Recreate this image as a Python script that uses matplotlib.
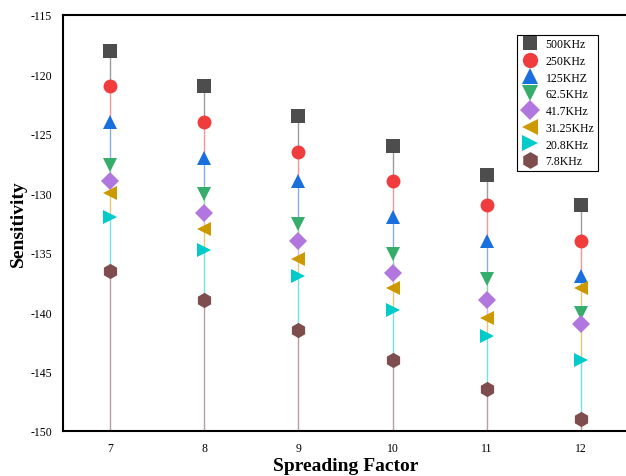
import matplotlib
matplotlib.use("Agg")
import matplotlib.pyplot as plt
from matplotlib.colors import to_rgb

# Spreading factor vs sensitivity for each bandwidth
sf = [7, 8, 9, 10, 11, 12]
labels = ["500KHz", "250KHz", "125KHZ", "62.5KHz", "41.7KHz", "31.25KHz", "20.8KHz", "7.8KHz"]
s500 = [-118, -121, -123.5, -126, -128.5, -131]
s250 = [-121, -124, -126.5, -129, -131, -134]
s125 = [-124, -127, -129, -132, -134, -137]
s62 = [-127.6, -130.1, -132.6, -135.1, -137.2, -140.1]
s41 = [-129, -131.7, -134, -136.7, -139, -141]
s31 = [-130, -133, -135.5, -138, -140.5, -138]
s20 = [-132, -134.8, -137, -139.8, -142, -144]
s7 = [-136.5, -139, -141.5, -144, -146.5, -149]

series = [s500, s250, s125, s62, s41, s31, s20, s7]
colors = ["#4d4d4d", "#f03c3c", "#1a6fdf", "#37ad6b", "#b177de", "#cc9900", "#00cbcb", "#7e4e4e"]
markers = ["s", "o", "^", "v", "D", "<", ">", "h"]
sizes = [9.5, 10, 10.5, 10.5, 9, 10.5, 10.5, 11]


def lighten(c, a=0.55):
    r, g, b = to_rgb(c)
    return (1 - a + a * r, 1 - a + a * g, 1 - a + a * b)


plt.rcParams['font.family'] = ['Liberation Serif', 'DejaVu Serif']
plt.rcParams['axes.unicode_minus'] = False

fig = plt.figure(figsize=(6.26, 4.77), dpi=100)
ax = fig.add_axes([63 / 626, 1 - 432 / 477, 565 / 626, 416 / 477])

base = -150
# each stem runs down to the baseline, later series cover earlier ones;
# only draw the part that stays visible so overlaps don't darken
for i, (vals, c) in enumerate(zip(series, colors)):
    for k, x in enumerate(sf):
        y = vals[k]
        later = [s[k] for s in series[i + 1:]]
        low = max(later + [base])
        if low < y:
            ax.plot([x, x], [low, y], color=lighten(c), lw=1.0, zorder=2,
                    solid_capstyle="butt")

for vals, c, m, ms, lab in zip(series, colors, markers, sizes, labels):
    ax.plot(sf, vals, linestyle="none", marker=m, markersize=ms, color=c,
            markeredgewidth=0, label=lab, zorder=3)

ax.set_xlim(6.5, 12.5)
ax.set_ylim(-150, -115)
ax.set_xticks(sf)
ax.set_yticks(range(-150, -114, 5))
ax.tick_params(axis="both", length=0, labelsize=8.5, pad=8)

for side in ["left", "bottom", "top"]:
    ax.spines[side].set_linewidth(1.5)
ax.spines["right"].set_visible(False)

ax.set_xlabel("Spreading Factor", fontsize=14, fontweight="bold", labelpad=2)
ax.set_ylabel("Sensitivity", fontsize=14, fontweight="bold", labelpad=2)

leg = ax.legend(loc="upper right", bbox_to_anchor=(0.957, 0.967), fontsize=8.5,
                frameon=True, fancybox=False, edgecolor="black", framealpha=1,
                handletextpad=0.6, labelspacing=0.4, borderpad=0.3,
                handlelength=1.5, markerscale=1.1)
leg.get_frame().set_linewidth(0.8)

fig.savefig("out.png", dpi=100)
